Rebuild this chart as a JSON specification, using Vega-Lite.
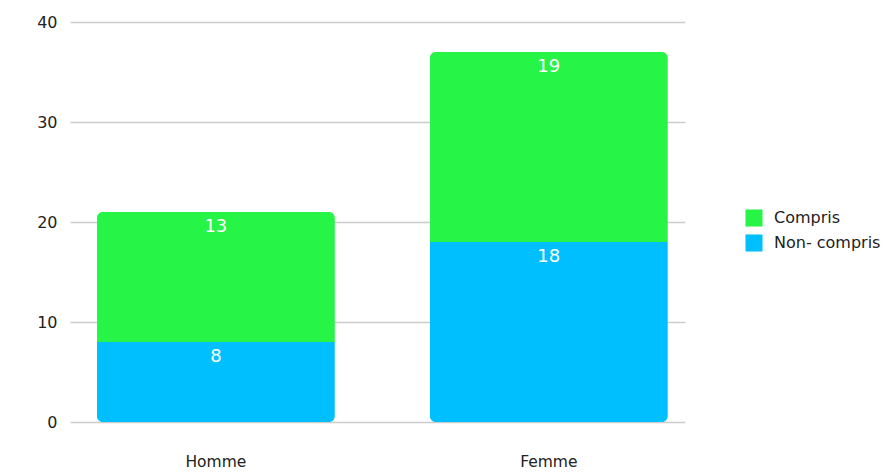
{
  "$schema": "https://vega.github.io/schema/vega-lite/v6.json",
  "autosize": "none",
  "width": 615,
  "height": 400,
  "padding": {"left": 70, "top": 22, "right": 210, "bottom": 50},
  "background": "white",
  "data": {"values": [
    {"sexe": "Homme", "categorie": "Non- compris", "valeur": 8},
    {"sexe": "Homme", "categorie": "Compris", "valeur": 13},
    {"sexe": "Femme", "categorie": "Non- compris", "valeur": 18},
    {"sexe": "Femme", "categorie": "Compris", "valeur": 19}
  ]},
  "config": {
    "view": {"stroke": null},
    "font": "DejaVu Sans"
  },
  "encoding": {
    "x": {
      "field": "sexe", "type": "nominal", "sort": ["Homme", "Femme"],
      "scale": {"paddingInner": 0.285, "paddingOuter": 0.066, "align": 0.61},
      "axis": {"title": null, "labelAngle": 0, "domain": false, "ticks": false, "labelFontSize": 15.5, "labelColor": "#222", "labelPadding": 32}
    },
    "y": {
      "field": "valeur", "type": "quantitative", "aggregate": "sum", "stack": "zero",
      "scale": {"domain": [0, 40]},
      "axis": {"title": null, "values": [0, 10, 20, 30, 40], "domain": false, "ticks": false, "labelFontSize": 16, "labelColor": "#222", "labelPadding": 13, "gridColor": "#cccccc", "gridWidth": 1.5}
    },
    "order": {"field": "categorie", "sort": "descending"}
  },
  "layer": [
    {
      "mark": {"type": "bar", "cornerRadius": 6},
      "encoding": {
        "color": {
          "field": "categorie", "type": "nominal",
          "scale": {"domain": ["Compris", "Non- compris"], "range": ["#26f446", "#00bfff"]},
          "legend": {"title": null, "orient": "none", "legendX": 675, "legendY": 187, "symbolType": "square", "symbolSize": 290, "symbolStrokeWidth": 0, "labelFontSize": 16, "labelColor": "#222", "rowPadding": 7, "labelOffset": 11}
        }
      }
    },
    {
      "mark": {"type": "text", "color": "white", "fontSize": 18, "baseline": "middle", "dy": 15},
      "encoding": {
        "text": {"field": "valeur", "type": "quantitative", "aggregate": "sum"},
        "detail": {"field": "categorie", "type": "nominal"}
      }
    }
  ]
}
